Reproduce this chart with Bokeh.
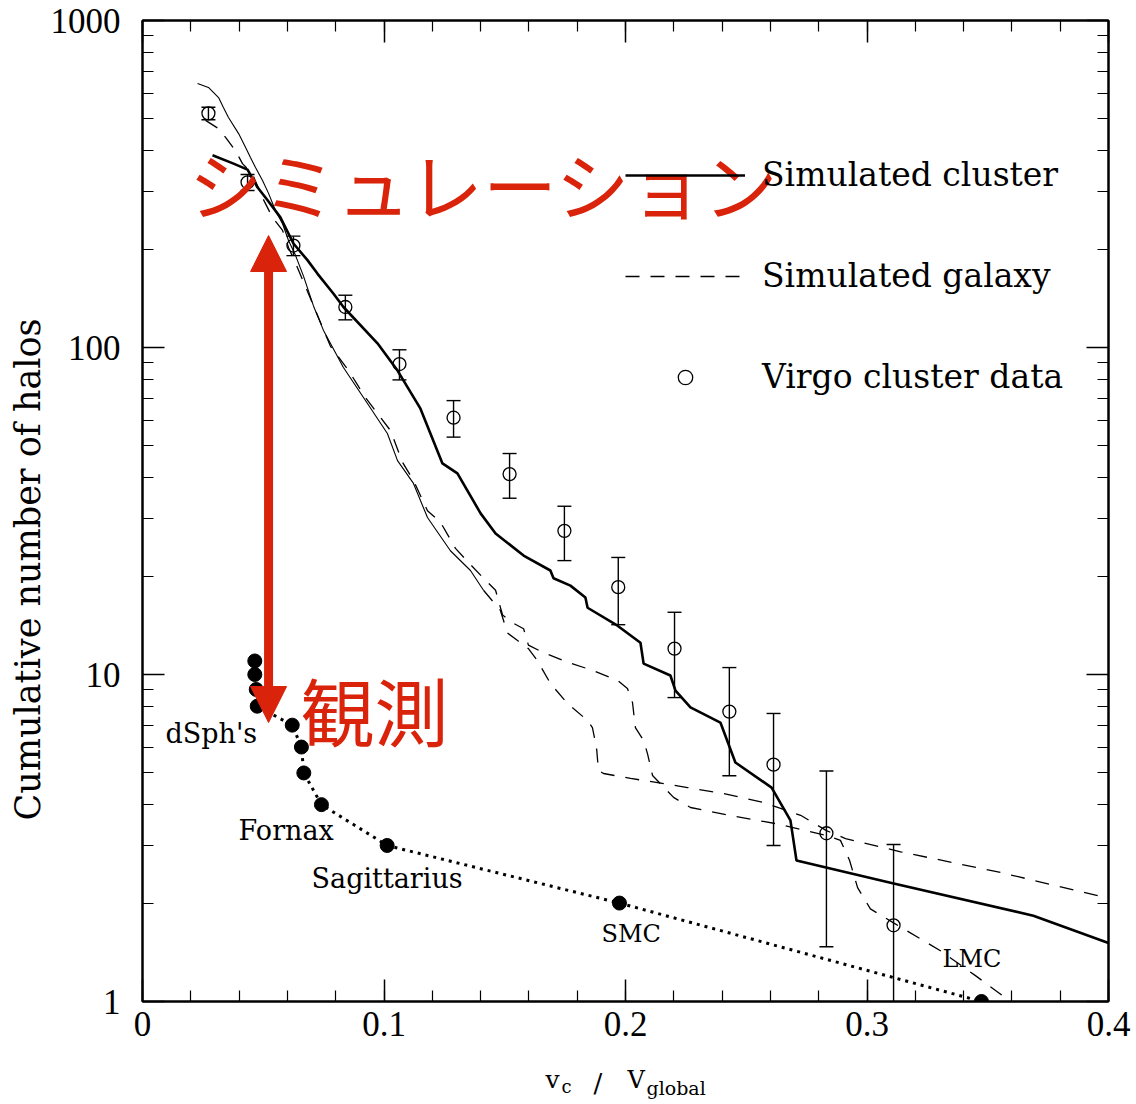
from bokeh.plotting import figure
from bokeh.layouts import column
from bokeh.models import (Range1d, LinearAxis, LogAxis, FixedTicker, SingleIntervalTicker,
                          PrintfTickFormatter, Label, Arrow, NormalHead, Legend, LegendItem, Title)
from bokeh.embed import file_html
from bokeh.resources import INLINE

# ---- simulated cluster (cumulative subhalo counts) ----
cluster_x = [0.0290, 0.0377, 0.0435, 0.0476, 0.0518, 0.0571, 0.0625, 0.0683, 0.0725, 0.0791,
             0.0832, 0.0973, 0.1056, 0.1151, 0.1242, 0.1304, 0.1400, 0.1462, 0.1578, 0.1689,
             0.1702, 0.1772, 0.1834, 0.1843, 0.1967, 0.2062, 0.2075, 0.2186, 0.2207, 0.2269,
             0.2393, 0.2455, 0.2605, 0.2683, 0.2708, 0.3106, 0.3689, 0.4000]
cluster_n = [387, 365, 350, 309, 282, 250, 208, 185, 168, 146,
             133, 103, 85, 65, 44.2, 41.2, 31.1, 27.0, 23.1, 20.8,
             19.7, 18.7, 17.2, 16.0, 14.1, 12.5, 10.8, 9.93, 8.93, 7.93,
             7.13, 5.38, 4.51, 3.58, 2.70, 2.30, 1.83, 1.51]

# ---- simulated galaxy, first halo (dense upper part, then sparse tail) ----
galaxy1_top_x = [0.0228, 0.0273, 0.0315, 0.0335, 0.0356, 0.0398, 0.0427, 0.0447, 0.0468, 0.0497,
                 0.0522, 0.0551, 0.0580, 0.0605, 0.0634, 0.0667, 0.0708, 0.0749, 0.0832, 0.0915,
                 0.1014, 0.1056, 0.1122, 0.1180, 0.1275, 0.1358, 0.1412]
galaxy1_top_n = [642, 624, 581, 542, 505, 451, 409, 381, 355, 324,
                 296, 262, 239, 212, 191, 165, 134, 113, 86.9, 70.3,
                 54.6, 45.1, 38.4, 30.2, 23.9, 20.8, 18.1]
galaxy1_tail_x = [0.1412, 0.1482, 0.1511, 0.1553, 0.1598, 0.1636, 0.1689, 0.1760, 0.1843, 0.1863,
                  0.1880, 0.1888, 0.1909, 0.2021, 0.2133, 0.2257, 0.2402, 0.2571, 0.2725, 0.2832,
                  0.2911, 0.3139, 0.3553, 0.4000]
galaxy1_tail_n = [18.1, 15.7, 13.4, 12.7, 12.0, 11.0, 9.39, 8.15, 7.23, 6.88,
                  5.98, 5.09, 4.98, 4.81, 4.67, 4.51, 4.33, 4.06, 3.71, 3.33,
                  3.15, 2.87, 2.48, 2.07]

# ---- simulated galaxy, second halo ----
galaxy2_x = [0.0261, 0.0315, 0.0344, 0.0385, 0.0414, 0.0455, 0.0497, 0.0538, 0.0580, 0.0605,
             0.0634, 0.0696, 0.0778, 0.0853, 0.0923, 0.1027, 0.1077, 0.1122, 0.1180, 0.1234,
             0.1296, 0.1350, 0.1412, 0.1462, 0.1491, 0.1532, 0.1578, 0.1598, 0.1656, 0.1760,
             0.1863, 0.1967, 0.2008, 0.2029, 0.2041, 0.2075, 0.2091, 0.2112, 0.2199, 0.2269,
             0.2455, 0.2621, 0.2832, 0.2890, 0.2928, 0.2961, 0.3014, 0.3110, 0.3304, 0.3449,
             0.3594]
galaxy2_n = [495, 467, 439, 400, 365, 340, 287, 250, 228, 202,
             181, 141, 101, 85.1, 70.3, 55.7, 44.5, 39.2, 31.7, 29.2,
             24.3, 22.0, 19.7, 18.1, 15.2, 14.4, 13.8, 12.3, 11.7, 10.9,
             10.3, 9.59, 9.06, 8.21, 6.88, 6.28, 5.73, 4.91, 4.21, 3.92,
             3.68, 3.50, 3.22, 3.11, 2.70, 2.23, 1.92, 1.74, 1.43, 1.20,
             1.00]

# ---- Virgo cluster galaxies with Poisson errors ----
virgo_x = [0.0273, 0.0435, 0.0625, 0.0840, 0.1064, 0.1288, 0.1520, 0.1747, 0.1970, 0.2203,
           0.2430, 0.2613, 0.2832, 0.3110]
virgo_n = [520, 320, 205, 133, 89, 61, 41, 27.5, 18.5, 12.0, 7.7, 5.3, 3.27, 1.71]
virgo_err = [23, 18, 14, 11.5, 9.4, 7.8, 6.4, 5.2, 4.3, 3.5, 2.8, 2.3, 1.8, 1.31]

# ---- Milky Way satellites ----
mw_x = [0.0465, 0.0465, 0.0471, 0.0475, 0.0620, 0.0658, 0.0668, 0.0741, 0.1013, 0.1975, 0.3474]
mw_n = [11, 10, 9, 8, 7, 6, 5, 4, 3, 2, 1]
mw_names = ["dSph's", "Fornax", "Sagittarius", "SMC", "LMC"]
mw_name_x = [0.0095, 0.0398, 0.0700, 0.1901, 0.3313]
mw_name_y = [6.60, 3.33, 2.38, 1.61, 1.35]

y_ticks = [1, 10, 100, 1000]
y_minor = [m * d for d in (1, 10, 100) for m in range(2, 10)]

RED = "#d9230a"
SERIF = "DejaVu Serif"
NUM = "Liberation Serif"

p = figure(width=1136, height=1054, x_range=Range1d(0, 0.4), y_range=Range1d(1, 1000),
           y_axis_type="log", output_backend="svg", toolbar_location=None,
           min_border_left=142, min_border_right=28, min_border_top=20, min_border_bottom=53)
p.grid.visible = False
p.outline_line_color = "black"
p.outline_line_width = 2
p.background_fill_color = "white"
p.border_fill_color = "white"


def style(ax, labels=True):
    ax.axis_line_color = "black"
    ax.axis_line_width = 2
    ax.major_tick_in = 22
    ax.major_tick_out = 0
    ax.minor_tick_in = 11
    ax.minor_tick_out = 0
    ax.major_tick_line_width = 1.5
    ax.minor_tick_line_width = 1.2
    ax.major_tick_line_color = "black"
    ax.minor_tick_line_color = "black"
    if labels:
        ax.major_label_text_font = NUM
        ax.major_label_text_font_size = "35px"
        ax.major_label_text_color = "black"
    else:
        # mirrored tick marks only
        ax.major_label_text_font_size = "1px"
        ax.major_label_text_color = None
        ax.major_label_standoff = 0


xa = p.xaxis[0]
xa.ticker = SingleIntervalTicker(interval=0.1, num_minor_ticks=5)
style(xa)
xa.major_label_standoff = 10

ya = p.yaxis[0]
ya.ticker = FixedTicker(ticks=y_ticks, minor_ticks=y_minor)
ya.formatter = PrintfTickFormatter(format="%d")
style(ya)
ya.major_label_standoff = 22

top = LinearAxis(ticker=SingleIntervalTicker(interval=0.1, num_minor_ticks=5))
style(top, labels=False)
p.add_layout(top, "above")
right = LogAxis(ticker=FixedTicker(ticks=y_ticks, minor_ticks=y_minor))
style(right, labels=False)
p.add_layout(right, "right")

# y axis title, set off toward the bottom of the frame
p.add_layout(Title(text="Cumulative number of halos", align="left", offset=181,
                   text_font=SERIF, text_font_size="35px", text_font_style="normal",
                   text_color="black", standoff=0), "left")

# simulated curves
r_cluster = p.line(cluster_x, cluster_n, line_color="black", line_width=2.6)
p.line(galaxy1_top_x, galaxy1_top_n, line_color="black", line_width=1.1)
p.line(galaxy1_tail_x, galaxy1_tail_n, line_color="black", line_width=1.3, line_dash="14 11")
r_galaxy = p.line(galaxy2_x, galaxy2_n, line_color="black", line_width=1.3, line_dash="14 11")

# Virgo data with error bars
lo = [n - e for n, e in zip(virgo_n, virgo_err)]
hi = [n + e for n, e in zip(virgo_n, virgo_err)]
p.segment(x0=virgo_x, y0=lo, x1=virgo_x, y1=hi, line_color="black", line_width=1.4)
p.scatter(virgo_x, hi, marker="dash", size=14, line_color="black", line_width=1.4)
p.scatter(virgo_x, lo, marker="dash", size=14, line_color="black", line_width=1.4)
r_virgo = p.scatter(virgo_x, virgo_n, marker="circle", size=13, fill_color=None,
                    line_color="black", line_width=1.3)

# Milky Way satellites
p.line(mw_x, mw_n, line_color="black", line_width=3, line_dash="3 5")
p.scatter(mw_x, mw_n, marker="circle", size=14, fill_color="black", line_color="black")

for name, nx, ny in zip(mw_names, mw_name_x, mw_name_y):
    size = "24px" if name in ("SMC", "LMC") else "27px"
    p.add_layout(Label(x=nx, y=ny, text=name, text_font=SERIF, text_font_size=size,
                       text_align="left", text_baseline="middle", text_color="black"))

legend = Legend(items=[LegendItem(label="Simulated cluster", renderers=[r_cluster]),
                       LegendItem(label="Simulated galaxy", renderers=[r_galaxy]),
                       LegendItem(label="Virgo cluster data", renderers=[r_virgo])],
                location=(483, 605), orientation="vertical",
                glyph_width=120, glyph_height=36, label_standoff=17, spacing=62,
                padding=0, margin=0, border_line_color=None, background_fill_alpha=0,
                label_text_font=SERIF, label_text_font_size="33px", label_text_color="black")
p.add_layout(legend)

# red annotations
head = dict(size=36, fill_color=RED, line_color=RED)
p.add_layout(Arrow(x_start=0.0522, y_start=7.13, x_end=0.0522, y_end=220,
                   start=NormalHead(**head), end=NormalHead(**head),
                   line_color=RED, line_width=9))
p.add_layout(Label(x=0.0190, y=320, text="シミュレーション", text_font="Noto Sans CJK JP",
                   text_font_size="74px", text_color=RED, text_baseline="middle"))
p.add_layout(Label(x=0.0654, y=7.87, text="観測", text_font="Noto Sans CJK JP",
                   text_font_size="74px", text_color=RED, text_baseline="middle"))

# x axis title strip (same horizontal scale as the plot): v_c / V_global
xt = figure(width=1136, height=50, x_range=Range1d(0, 0.4), y_range=Range1d(0, 50),
            x_axis_type=None, y_axis_type=None, toolbar_location=None,
            output_backend="svg", min_border_left=142, min_border_right=28,
            min_border_top=0, min_border_bottom=0, outline_line_color=None)
xt.grid.visible = False
title_parts = [("v", 0.1669, 25, "25px"), ("c", 0.1735, 18, "18px"), ("/", 0.1867, 22, "26px"),
               ("V", 0.2008, 25, "24px"), ("global", 0.2087, 17, "19px")]
for txt, tx, ty, fs in title_parts:
    xt.add_layout(Label(x=tx, y=ty, text=txt, text_font=SERIF, text_font_size=fs,
                        text_baseline="alphabetic", text_color="black"))

open("out.html", "w").write(file_html(column(p, xt, spacing=0), INLINE))
